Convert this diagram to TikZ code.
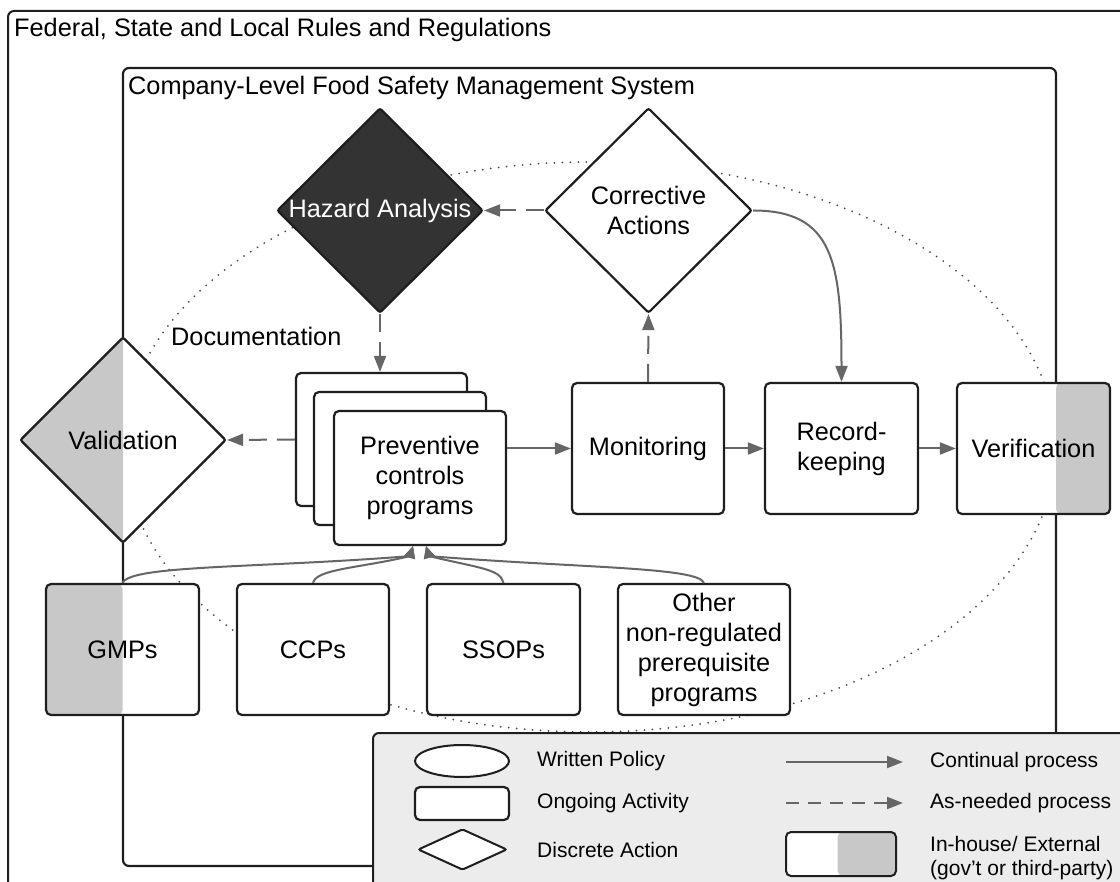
\documentclass[tikz,border=0pt]{standalone}
\usepackage{fontspec}
\setmainfont{Liberation Sans}
\usetikzlibrary{shapes.geometric,arrows.meta,calc}
\definecolor{edge}{HTML}{1E1E1E}
\definecolor{arr}{HTML}{666666}
\definecolor{ext}{HTML}{C8C8C8}
\definecolor{hz}{HTML}{333333}
\definecolor{leg}{HTML}{ECECEC}
\definecolor{dots}{HTML}{4A4A4A}
\begin{document}
\begin{tikzpicture}[x=1pt,y=-1pt,
  every node/.style={font=\fontsize{25.3}{30}\selectfont},
  box/.style={draw=edge, line width=2.2pt, rounded corners=5pt, fill=white, inner sep=0pt, align=center},
  dia/.style={diamond, draw=edge, line width=2.2pt, fill=white, inner sep=0pt, rounded corners=2pt},
  extleft/.style={path picture={\fill[ext] (path picture bounding box.south west) rectangle (path picture bounding box.north);}},
  cont/.style={draw=arr, line width=2pt, -{Triangle[length=16pt,width=12pt]}},
  feed/.style={draw=arr, line width=2pt, -{Triangle[length=12pt,width=11pt]}},
  asneed/.style={cont, dash pattern=on 18pt off 10pt},
  legdash/.style={cont, dash pattern=on 13pt off 9pt},
  legtext/.style={font=\fontsize{21}{24}\selectfont, anchor=west, align=left, inner sep=0pt},
]
\useasboundingbox (0,0) rectangle (1120,882);
\clip (0,0) rectangle (1120,882);
% outer and inner frames
\draw[draw=edge, line width=2pt, rounded corners=6pt] (8,11) rectangle (1150,910);
\node[anchor=base west, inner sep=0pt] (t1) at (14,37) {Federal, State and Local Rules and Regulations};
\draw[draw=edge, line width=2.2pt, rounded corners=6pt] (123,68) rectangle (1056,866);
\node[anchor=base west, inner sep=0pt] (t2) at (128,95) {Company-Level Food Safety Management System};
% written policy (dotted ellipse)
\draw[dots, line width=2pt, line cap=round, dash pattern=on 0pt off 8pt] (590,447) ellipse [x radius=466, y radius=285];
\node[anchor=west, inner sep=0pt] (doc) at (171,336) {Documentation};
% diamonds
\node[dia, fill=hz, minimum width=206pt, minimum height=205pt, label={[text=white]center:Hazard Analysis}] (haz) at (380,210.5) {};
\node[dia, minimum width=207pt, minimum height=205pt, label={[align=center]center:Corrective\\Actions}] (corr) at (648.5,210.5) {};
\node[dia, extleft, minimum width=206pt, minimum height=206pt, label={center:Validation}] (val) at (123,440) {};
% preventive controls stack
\node[box, minimum width=171pt, minimum height=133pt] (back) at (381.5,439.5) {};
\node[box, minimum width=172pt, minimum height=133pt] (mid) at (400,458.5) {};
\node[box, minimum width=172pt, minimum height=134pt] (front) at (420,478) {Preventive\\controls\\programs};
% process boxes
\node[box, minimum width=152pt, minimum height=131pt] (mon) at (648,448.5) {Monitoring};
\node[box, minimum width=153pt, minimum height=131pt] (rec) at (841.5,448.5) {Record-\\keeping};
\node[box, minimum width=153pt, minimum height=131pt,
  path picture={\fill[ext] ($(path picture bounding box.north west)!0.647!(path picture bounding box.north east)$) rectangle (path picture bounding box.south east);}] (ver) at (1033.5,448.5) {Verification};
% prerequisite boxes
\node[box, extleft, minimum width=153pt, minimum height=131pt] (gmp) at (122.5,649.5) {GMPs};
\node[box, minimum width=152pt, minimum height=131pt] (ccp) at (313,649.5) {CCPs};
\node[box, minimum width=153pt, minimum height=131pt] (ssop) at (503.5,649.5) {SSOPs};
\node[box, minimum width=172pt, minimum height=131pt] (oth) at (704,649.5) {Other\\non-regulated\\prerequisite\\programs};
% connectors
\draw[asneed] (corr.west) -- (haz.east);
\draw[asneed] (haz.south) -- (haz.south |- back.north);
\draw[asneed] (back.west) -- (val.east);
\draw[cont] (mon.west -| front.east) -- (mon.west);
\draw[cont] (mon.east) -- (rec.west);
\draw[cont] (rec.east) -- (ver.west);
\draw[asneed] (mon.north) -- (corr.south);
\draw[cont] (corr.east) .. controls +(80,0) and +(0,-120) .. (rec.north);
\coordinate (pA) at ($(front.south)+(-7,0)$);
\coordinate (pB) at ($(front.south)+(6,0)$);
\coordinate (qA) at ($(pA)+(-3,10)$);
\coordinate (qB) at ($(pB)+(3,10)$);
\draw[feed] (gmp.north) .. controls +(8,-18) and +(-150,12) .. (qA) -- (pA);
\draw[feed] (ccp.north) .. controls +(3,-14) and +(-50,12) .. (qA) -- (pA);
\draw[feed] (ssop.north) .. controls +(-3,-14) and +(50,12) .. (qB) -- (pB);
\draw[feed] (oth.north) .. controls +(-6,-16) and +(150,12) .. (qB) -- (pB);
% legend
\draw[draw=edge, line width=2pt, fill=leg, rounded corners=6pt] (373,733) rectangle (1150,910);
\node[ellipse, draw=edge, line width=2pt, fill=white, inner sep=0pt, minimum width=94pt, minimum height=32pt] (lw) at (462,761) {};
\node[box, minimum width=94pt, minimum height=33pt] (lo) at (462,803.5) {};
\node[dia, line width=2pt, minimum width=89pt, minimum height=41pt] (ld) at (462.5,849.5) {};
\node[legtext] (lwt) at (537,761) {Written Policy};
\node[legtext] (lot) at (537,803.5) {Ongoing Activity};
\node[legtext] (ldt) at (537,849.5) {Discrete Action};
\coordinate (lc1) at (786,762);
\coordinate (lc2) at (903,762);
\coordinate (ld1) at (786,803);
\coordinate (ld2) at (903,803);
\draw[cont] (lc1) -- (lc2);
\draw[legdash] (ld1) -- (ld2);
\node[box, line width=2pt, minimum width=110pt, minimum height=44pt,
  path picture={\fill[ext] ($(path picture bounding box.north west)!0.47!(path picture bounding box.north east)$) rectangle (path picture bounding box.south east);}] (lx) at (841,854) {};
\node[legtext] (lct) at (930,762) {Continual process};
\node[legtext] (lat) at (930,803) {As-needed process};
\node[legtext] (lxt) at (930,858) {In-house/ External\\(gov't or third-party)};
\end{tikzpicture}
\end{document}
